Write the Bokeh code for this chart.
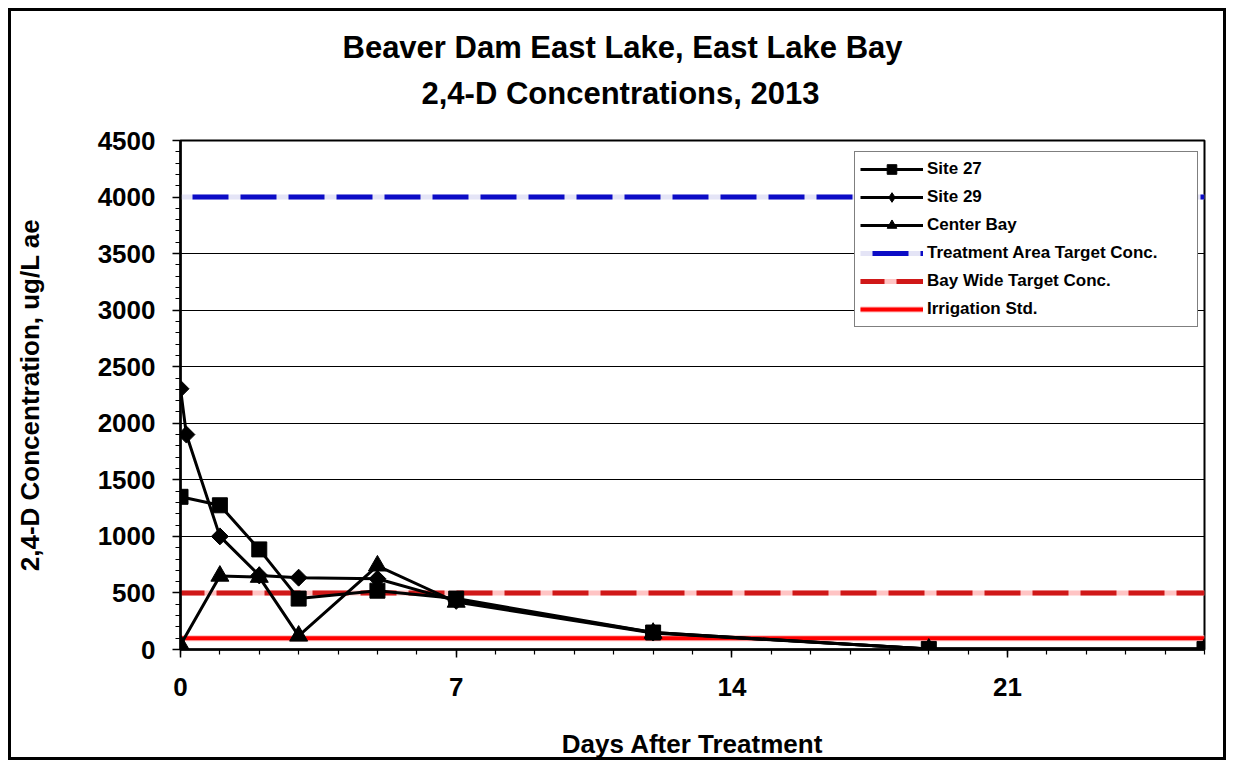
import math
from bokeh.plotting import figure
from bokeh.models import Range1d, FixedTicker, Legend, LegendItem, Title
from bokeh.embed import file_html
from bokeh.resources import INLINE

# ---------------- data ----------------
title_lines = ["Beaver Dam East Lake, East Lake Bay", "2,4-D Concentrations, 2013"]
x_label = "Days After Treatment"
y_label = "2,4-D Concentration, ug/L ae"

x_limits = [0, 26]
y_limits = [0, 4500]
x_major_ticks = [0, 7, 14, 21]
x_minor_ticks = list(range(0, 27))
y_major_ticks = [0, 500, 1000, 1500, 2000, 2500, 3000, 3500, 4000, 4500]
y_minor_ticks = list(range(0, 4501, 100))

site27_days = [0, 1, 2, 3, 5, 7, 12, 19, 26]
site27_conc = [1350, 1275, 885, 450, 520, 450, 150, 5, 5]

site29_days = [0, 0.15, 1, 2, 3, 5, 7, 12, 19, 26]
site29_conc = [2305, 1900, 1000, 655, 635, 625, 430, 150, 5, 5]

center_days = [0, 1, 2, 3, 5, 7, 12, 19, 26]
center_conc = [40, 650, 640, 120, 740, 420, 145, 5, 5]

treatment_target = 4000
baywide_target = 500
irrigation_std = 100

FONT = "Liberation Sans"
W, H = 1218, 752
BL, BT, BR = 169, 129, 25
BB = H - 638

# ---------------- figure ----------------
p = figure(width=W, height=H,
           x_range=Range1d(x_limits[0], x_limits[1]),
           y_range=Range1d(y_limits[0], y_limits[1]),
           output_backend="svg", toolbar_location=None,
           min_border_left=BL, min_border_right=BR,
           min_border_top=BT, min_border_bottom=BB)
p.styles = {"border": "3px solid black", "margin-left": "8px", "margin-top": "8px"}
p.background_fill_color = "white"
p.border_fill_color = "white"
p.outline_line_color = "black"
p.outline_line_width = 2

xa = p.below[0]
ya = p.left[0]

# second title line (closest to the plot), then first line (outermost)
t2 = Title(text=title_lines[1], align="left", offset=241, standoff=55,
           vertical_align="top",
           text_font=FONT, text_font_size="31px", text_font_style="bold",
           text_color="black")
p.add_layout(t2, "above")
p.title.text = title_lines[0]
p.title.align = "left"
p.title.offset = 162
p.title.standoff = -33
p.title.text_font = FONT
p.title.text_font_size = "31px"
p.title.text_font_style = "bold"
p.title.text_color = "black"

# axes
xa.ticker = FixedTicker(ticks=x_major_ticks, minor_ticks=x_minor_ticks)
ya.ticker = FixedTicker(ticks=y_major_ticks, minor_ticks=y_minor_ticks)
for ax in (xa, ya):
    ax.axis_line_color = "black"
    ax.axis_line_width = 2.5
    ax.major_tick_line_color = "black"
    ax.minor_tick_line_color = "black"
    ax.major_tick_line_width = 1.5
    ax.minor_tick_line_width = 1.2
    ax.major_tick_in = 0
    ax.major_tick_out = 8
    ax.minor_tick_in = 0
    ax.minor_tick_out = 5
    ax.major_label_text_font = FONT
    ax.major_label_text_font_size = "26px"
    ax.major_label_text_font_style = "bold"
    ax.major_label_text_color = "black"
    ax.axis_label_text_font = FONT
    ax.axis_label_text_font_size = "26px"
    ax.axis_label_text_font_style = "bold"
    ax.axis_label_text_color = "black"
xa.axis_label = x_label
ya.axis_label = y_label
xa.major_label_standoff = 20
ya.major_label_standoff = 17
xa.axis_label_standoff = 30
ya.axis_label_standoff = 50

p.xgrid.visible = False
p.ygrid.ticker = FixedTicker(ticks=y_major_ticks)
p.ygrid.grid_line_color = "black"
p.ygrid.grid_line_width = 1

# reference lines
tr_bg = p.line(x_limits, [treatment_target] * 2, line_color="#e4e4f6", line_width=5)
tr_fg = p.line(x_limits, [treatment_target] * 2, line_color="#0c0cc6", line_width=5,
               line_dash="36 12", line_dash_offset=36)
bw_bg = p.line(x_limits, [baywide_target] * 2, line_color="#ffc4c4", line_width=5)
bw_fg = p.line(x_limits, [baywide_target] * 2, line_color="#d01818", line_width=5,
               line_dash="36 12", line_dash_offset=12)
ir_bg = p.line(x_limits, [irrigation_std] * 2, line_color="#ffc0c0", line_width=6)
ir_fg = p.line(x_limits, [irrigation_std] * 2, line_color="#ff0000", line_width=4)

# data series
s29_l = p.line(site29_days, site29_conc, line_color="black", line_width=3)
s29_d = p.scatter(site29_days, site29_conc, marker="diamond", size=12, color="black")
s29_m = p.scatter(site29_days, site29_conc, marker="square", angle=math.pi / 4,
                  size=12, color="black")
cb_l = p.line(center_days, center_conc, line_color="black", line_width=3)
cb_m = p.scatter(center_days, center_conc, marker="triangle", size=18, color="black")
s27_l = p.line(site27_days, site27_conc, line_color="black", line_width=3)
s27_m = p.scatter(site27_days, site27_conc, marker="square", size=15, color="black")

legend = Legend(items=[
    LegendItem(label="Site 27", renderers=[s27_l, s27_m]),
    LegendItem(label="Site 29", renderers=[s29_l, s29_d]),
    LegendItem(label="Center Bay", renderers=[cb_l, cb_m]),
    LegendItem(label="Treatment Area Target Conc.", renderers=[tr_bg, tr_fg]),
    LegendItem(label="Bay Wide Target Conc.", renderers=[bw_bg, bw_fg]),
    LegendItem(label="Irrigation Std.", renderers=[ir_bg, ir_fg]),
], location=(674, 322))
legend.padding = 5
legend.spacing = 4
legend.margin = 0
legend.glyph_width = 63
legend.glyph_height = 24
legend.label_height = 24
legend.label_width = 265
legend.label_standoff = 4
legend.label_text_font = FONT
legend.label_text_font_size = "17px"
legend.label_text_font_style = "bold"
legend.label_text_color = "black"
legend.border_line_color = "black"
legend.border_line_width = 1.5
legend.background_fill_color = "white"
legend.background_fill_alpha = 1
p.add_layout(legend)

open("out.html", "w").write(file_html(p, INLINE))
